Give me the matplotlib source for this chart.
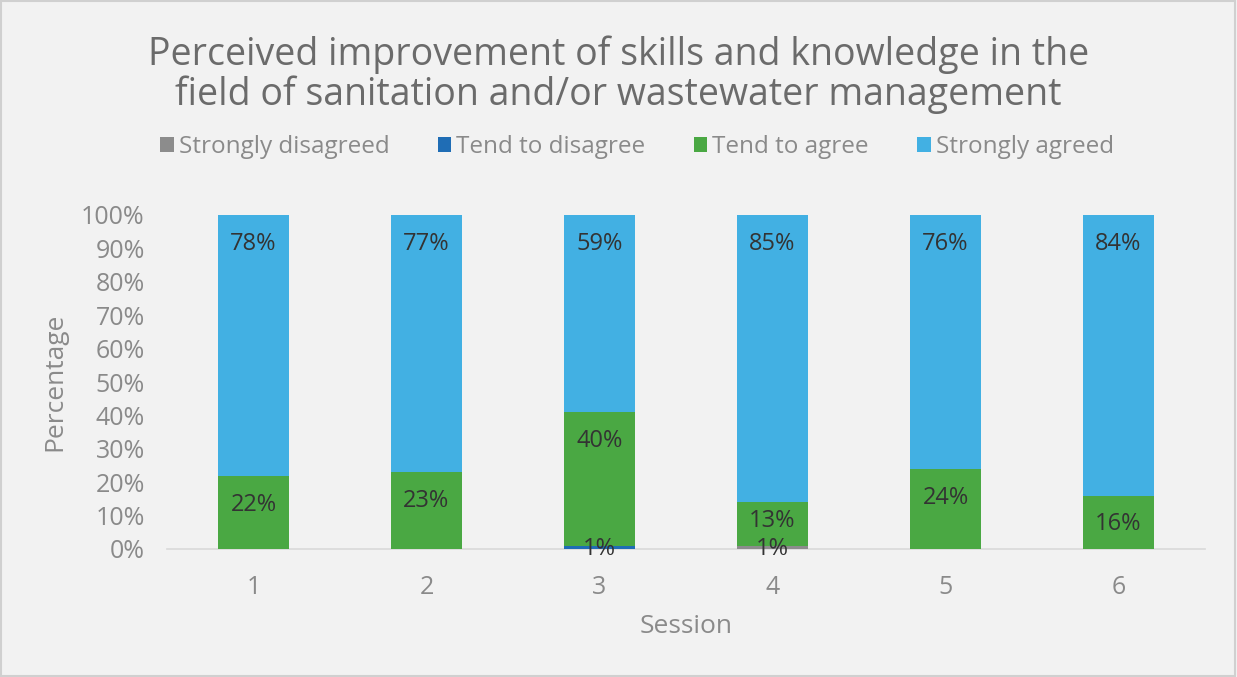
import matplotlib
matplotlib.use("Agg")
import matplotlib.pyplot as plt
from matplotlib import font_manager
from matplotlib.patches import Rectangle
import numpy as np

sessions = ["1", "2", "3", "4", "5", "6"]
strongly_disagreed = [0, 0, 0, 1, 0, 0]
tend_to_disagree = [0, 0, 1, 0, 0, 0]
tend_to_agree = [22, 23, 40, 13, 24, 16]
strongly_agreed = [78, 77, 59, 85, 76, 84]
series_names = ["Strongly disagreed", "Tend to disagree", "Tend to agree", "Strongly agreed"]
colors = ["#8c8c8c", "#1f6db5", "#4aa843", "#42b0e3"]
yticks = [0, 10, 20, 30, 40, 50, 60, 70, 80, 90, 100]

avail = {f.name for f in font_manager.fontManager.ttflist}
fam = [f for f in ["Open Sans", "DejaVu Sans"] if f in avail]
plt.rcParams["font.family"] = fam

W, H = 1237, 677
fig = plt.figure(figsize=(W / 100, H / 100), dpi=100, facecolor="#f2f2f2")
ax = fig.add_axes([167 / W, 1 - 549 / H, (1205 - 167) / W, (549 - 215) / H])
ax.set_facecolor("#f2f2f2")

x = np.arange(len(sessions))
data = np.array([strongly_disagreed, tend_to_disagree, tend_to_agree, strongly_agreed], dtype=float)
totals = data.sum(axis=0)
bottom = np.zeros(len(sessions))
for name, vals, c in zip(series_names, data, colors):
    v = vals / totals  # 100% stacked
    ax.bar(x, v, 0.405, bottom=bottom, color=c, label=name, zorder=2)
    for xi, b, vi, raw in zip(x, bottom, v, vals):
        if raw <= 0:
            continue
        if raw < 5:
            yy = b + vi * 0.1
        else:
            yy = max(b + vi - 0.087, b + 0.075)
        ax.text(xi, yy, f"{int(raw)}%", ha="center", va="center", fontsize=17, color="#333333",
                zorder=3, clip_on=False)
    bottom += v

ax.set_xlim(-0.5, len(sessions) - 0.5)
ax.set_ylim(0, 1)
ax.set_yticks([t / 100 for t in yticks])
ax.set_yticklabels([f"{t}%" for t in yticks])
ax.set_xticks(x)
ax.set_xticklabels(sessions)
ax.tick_params(axis="both", length=0, labelsize=18, labelcolor="#8a8a8a")
ax.tick_params(axis="x", pad=19)
ax.tick_params(axis="y", pad=16)
for s in ["top", "right", "left"]:
    ax.spines[s].set_visible(False)
ax.spines["bottom"].set_color("#d9d9d9")
ax.spines["bottom"].set_linewidth(1.2)
ax.spines["bottom"].set_zorder(1)

ax.set_xlabel("Session", fontsize=19, color="#8a8a8a", labelpad=10)
ax.set_ylabel("Percentage", fontsize=19, color="#8a8a8a", labelpad=10)

fig.text(0.5, 1 - 75 / H, "Perceived improvement of skills and knowledge in the\nfield of sanitation and/or wastewater management",
         ha="center", va="center", fontsize=27, color="#6b6b6b", linespacing=1.05)

leg = fig.legend(loc="center", bbox_to_anchor=(0.515, 1 - 147 / H), ncol=4, frameon=False,
                 fontsize=17.5, handlelength=0.55, handleheight=0.55, handletextpad=0.2,
                 columnspacing=2.0, labelcolor="#8a8a8a")

fig.patches.append(Rectangle((0.001, 0.001), 0.997, 0.997, transform=fig.transFigure,
                             fill=False, edgecolor="#d0d0d0", linewidth=1.5))

fig.savefig("out.png", dpi=100, facecolor=fig.get_facecolor())
